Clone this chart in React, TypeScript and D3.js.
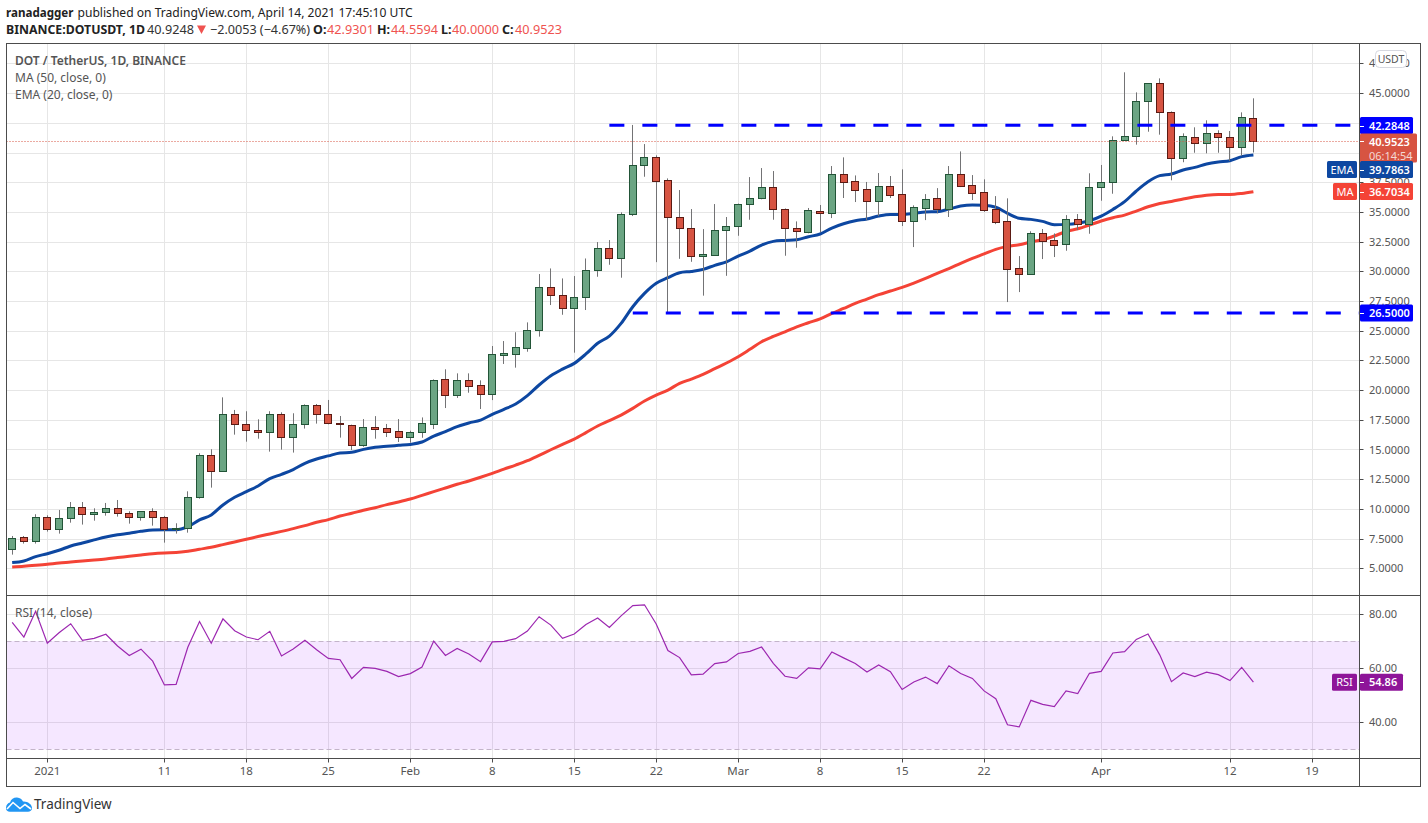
import * as d3 from 'd3';

const FONT = '"Noto Sans", sans-serif';
const WIDTH = 1428;
const HEIGHT = 823;

// daily candles, first one is 2020-12-29, last one 2021-04-14
const firstDay = new Date(Date.UTC(2020, 11, 29));

const opens = [
  6.6, 7.61, 7.27, 9.29, 8.28, 9.21, 10.13, 9.55, 9.71, 10.05,
  9.63, 9.29, 9.8, 9.29, 8.28, 8.37, 10.98, 14.51, 13.16, 17.96,
  17.12, 16.62, 16.45, 17.96, 16.03, 17.12, 18.72, 17.96, 17.21, 17.09,
  15.41, 16.86, 16.78, 16.53, 16.08, 16.44, 17.17, 20.9, 19.62, 20.82,
  20.4, 19.7, 22.98, 23.06, 23.57, 25.03, 28.65, 27.97, 26.88, 27.81,
  30.07, 32.0, 31.08, 34.79, 38.92, 39.59, 37.65, 34.54, 33.61, 31.25,
  31.39, 33.44, 33.78, 35.63, 36.14, 37.06, 35.21, 33.61, 33.34, 35.05,
  34.94, 38.16, 37.57, 36.89, 35.95, 37.15, 36.48, 34.26, 35.36, 36.14,
  35.27, 38.16, 37.23, 36.64, 35.21, 34.2, 30.24, 29.8, 33.19, 32.6,
  32.26, 34.37, 33.94, 37.07, 37.49, 41.02, 41.36, 44.3, 45.82, 43.38,
  39.51, 41.27, 40.77, 41.61, 41.27, 40.43, 42.93,
];
const closes = [
  7.53, 7.27, 9.29, 8.28, 9.21, 10.13, 9.55, 9.71, 10.05, 9.63,
  9.29, 9.8, 9.29, 8.28, 8.37, 10.98, 14.51, 13.16, 17.96, 17.12,
  16.62, 16.45, 17.96, 16.03, 17.12, 18.72, 17.96, 17.21, 17.12, 15.41,
  16.86, 16.75, 16.5, 16.08, 16.44, 17.2, 20.82, 19.62, 20.82, 20.37,
  19.7, 23.01, 23.09, 23.6, 25.03, 28.65, 27.97, 26.88, 27.81, 30.07,
  32.0, 31.08, 34.79, 38.92, 39.59, 37.57, 34.54, 33.61, 31.25, 31.42,
  33.44, 33.78, 35.63, 36.14, 37.06, 35.21, 33.61, 33.36, 35.13, 34.94,
  38.16, 37.54, 36.87, 35.95, 37.15, 36.45, 34.26, 35.39, 36.06, 35.27,
  38.16, 37.2, 36.61, 35.18, 34.17, 30.21, 29.8, 33.19, 32.57, 32.24,
  34.37, 33.94, 37.07, 37.49, 41.02, 41.36, 44.3, 45.82, 43.38, 39.51,
  41.36, 40.77, 41.61, 41.27, 40.43, 42.96, 40.95,
];
const highs = [
  7.72, 7.72, 9.55, 9.46, 9.91, 10.58, 10.58, 10.05, 10.5, 10.75,
  9.8, 9.8, 10.05, 9.41, 8.79, 11.48, 14.68, 15.02, 19.39, 18.33,
  18.22, 17.54, 18.22, 18.13, 18.05, 18.8, 18.83, 19.17, 17.82, 17.09,
  17.56, 17.81, 17.15, 17.56, 16.58, 17.7, 20.9, 21.75, 21.41, 21.41,
  20.82, 23.71, 24.13, 24.87, 25.7, 29.77, 30.24, 29.4, 29.6, 31.08,
  32.46, 32.63, 34.96, 42.32, 40.71, 39.76, 37.82, 36.84, 35.24, 33.55,
  35.66, 34.57, 35.7, 37.93, 38.69, 38.44, 35.29, 34.2, 35.33, 35.58,
  38.86, 39.59, 38.07, 37.52, 38.27, 38.02, 38.58, 35.55, 36.5, 37.0,
  38.86, 40.09, 38.1, 37.74, 36.33, 36.14, 31.28, 33.37, 33.56, 33.19,
  34.73, 34.82, 38.25, 38.95, 41.36, 46.75, 45.06, 45.82, 46.24, 43.46,
  41.61, 42.12, 42.71, 41.87, 41.81, 43.38, 44.56,
];
const lows = [
  6.15, 7.08, 7.08, 8.09, 7.92, 8.84, 8.68, 9.01, 9.43, 9.35,
  8.76, 9.01, 8.59, 7.16, 7.92, 8.0, 10.86, 11.79, 13.16, 16.25,
  15.66, 15.91, 14.82, 14.99, 14.74, 16.76, 17.18, 17.12, 16.0, 14.96,
  15.23, 15.91, 16.05, 15.63, 15.57, 15.99, 16.72, 18.49, 19.34, 19.78,
  18.41, 19.16, 22.2, 21.89, 23.23, 24.5, 27.16, 26.34, 23.15, 26.74,
  29.54, 30.55, 29.46, 34.65, 37.96, 30.77, 26.54, 31.05, 30.8, 27.95,
  31.31, 29.62, 32.99, 34.34, 36.06, 34.34, 31.31, 31.98, 33.2, 33.28,
  34.48, 36.17, 35.83, 34.29, 34.65, 36.17, 33.81, 32.04, 34.31, 34.88,
  34.57, 37.09, 36.0, 35.0, 33.97, 27.41, 28.25, 29.8, 31.03, 31.2,
  31.73, 33.47, 33.16, 35.94, 36.53, 40.97, 40.66, 41.75, 41.5, 37.66,
  39.18, 39.98, 39.93, 39.98, 39.29, 39.73, 40.0,
];
const ema20 = [
  5.48, 5.62, 5.98, 6.23, 6.52, 6.88, 7.13, 7.39, 7.64, 7.83,
  7.95, 8.11, 8.23, 8.25, 8.25, 8.51, 9.07, 9.49, 10.33, 10.98,
  11.45, 11.93, 12.55, 12.91, 13.31, 13.84, 14.2, 14.46, 14.71, 14.76,
  15.01, 15.18, 15.27, 15.35, 15.43, 15.63, 16.13, 16.5, 16.92, 17.23,
  17.48, 17.96, 18.38, 18.83, 19.53, 20.43, 21.21, 21.77, 22.25, 23.04,
  23.94, 24.55, 25.62, 27.02, 28.14, 28.99, 29.46, 29.88, 29.99, 30.16,
  30.5, 30.8, 31.28, 31.7, 32.21, 32.52, 32.6, 32.66, 32.91, 33.14,
  33.64, 34.0, 34.26, 34.4, 34.65, 34.79, 34.79, 34.88, 34.99, 35.02,
  35.24, 35.49, 35.58, 35.55, 35.39, 34.88, 34.46, 34.37, 34.2, 33.92,
  33.95, 34.05, 34.26, 34.65, 35.21, 35.86, 36.76, 37.54, 38.05, 38.19,
  38.53, 38.75, 39.03, 39.2, 39.31, 39.65, 39.79,
];
const ma50 = [
  5.11, 5.17, 5.25, 5.34, 5.45, 5.53, 5.62, 5.7, 5.79, 5.9,
  6.01, 6.12, 6.23, 6.29, 6.32, 6.43, 6.6, 6.77, 6.99, 7.22,
  7.44, 7.67, 7.89, 8.11, 8.34, 8.59, 8.87, 9.1, 9.4, 9.63,
  9.88, 10.1, 10.36, 10.58, 10.83, 11.14, 11.45, 11.76, 12.07, 12.35,
  12.66, 12.99, 13.35, 13.69, 14.06, 14.51, 14.98, 15.43, 15.88, 16.42,
  16.98, 17.43, 17.9, 18.46, 19.08, 19.58, 20.0, 20.57, 20.93, 21.32,
  21.8, 22.28, 22.81, 23.43, 24.07, 24.52, 24.91, 25.33, 25.67, 26.0,
  26.45, 26.87, 27.3, 27.66, 28.03, 28.34, 28.65, 29.01, 29.4, 29.83,
  30.22, 30.67, 31.09, 31.46, 31.85, 32.1, 32.24, 32.47, 32.66, 32.97,
  33.35, 33.58, 33.89, 34.23, 34.51, 34.73, 35.07, 35.43, 35.71, 35.88,
  36.08, 36.27, 36.41, 36.47, 36.47, 36.55, 36.7,
];
const rsi14 = [
  76.9, 71.5, 81.0, 69.2, 73.1, 76.4, 70.3, 71.0, 72.5, 68.2,
  64.7, 67.0, 62.6, 53.8, 54.0, 67.7, 77.2, 69.2, 78.2, 73.8,
  71.5, 70.5, 73.6, 64.5, 67.1, 70.3, 66.8, 63.6, 63.1, 56.2,
  60.3, 59.9, 58.8, 56.9, 58.0, 60.4, 70.0, 64.7, 67.3, 65.2,
  62.4, 69.7, 69.9, 70.9, 73.7, 79.0, 75.9, 71.0, 72.6, 76.1,
  78.5, 75.0, 79.3, 83.1, 83.4, 76.3, 66.5, 63.9, 57.5, 57.8,
  61.7, 62.3, 65.4, 66.2, 67.8, 61.8, 57.0, 56.2, 60.1, 59.7,
  66.0, 63.8, 61.7, 58.6, 61.2, 58.7, 52.1, 54.9, 56.7, 54.3,
  60.9, 58.0, 56.2, 51.6, 48.7, 39.1, 38.3, 48.1, 46.6, 45.8,
  51.6, 50.6, 58.1, 58.8, 65.6, 66.1, 70.6, 72.6, 64.9, 55.0,
  58.2, 56.9, 58.5, 57.6, 55.4, 60.3, 54.86,
];

// horizontal levels drawn by the author, with the candle they start from
const levels = [42.2848, 26.5];
const levelStarts = [51, 53];

const priceTicks = d3.range(5, 50, 2.5);
// these two sit fully under the tags on the scale
const coveredTicks = [40, 42.5];
const rsiTicks = [80, 60, 40];
const timeTicks: [Date, string][] = [
  [new Date(Date.UTC(2021, 0, 1)), '2021'],
  [new Date(Date.UTC(2021, 0, 11)), '11'],
  [new Date(Date.UTC(2021, 0, 18)), '18'],
  [new Date(Date.UTC(2021, 0, 25)), '25'],
  [new Date(Date.UTC(2021, 1, 1)), 'Feb'],
  [new Date(Date.UTC(2021, 1, 8)), '8'],
  [new Date(Date.UTC(2021, 1, 15)), '15'],
  [new Date(Date.UTC(2021, 1, 22)), '22'],
  [new Date(Date.UTC(2021, 2, 1)), 'Mar'],
  [new Date(Date.UTC(2021, 2, 8)), '8'],
  [new Date(Date.UTC(2021, 2, 15)), '15'],
  [new Date(Date.UTC(2021, 2, 22)), '22'],
  [new Date(Date.UTC(2021, 3, 1)), 'Apr'],
  [new Date(Date.UTC(2021, 3, 12)), '12'],
  [new Date(Date.UTC(2021, 3, 19)), '19'],
];

const UP_FILL = '#6ba583';
const UP_EDGE = '#225437';
const DOWN_FILL = '#d75442';
const DOWN_EDGE = '#5b1a13';
const WICK = '#737375';
const GRID = '#e6e6e6';
const FRAME = '#4c4c4c';
const AXIS_TEXT = '#555555';
const EMA_BLUE = '#0d47a1';
const MA_RED = '#f44336';
const RSI_PURPLE = '#9c27b0';
const RSI_TAG = '#8e1599';
const QUOTE_RED = '#ef5350';

// pane bounds
const left = 6.5;
const right = 1359.5;
const outerRight = 1420.5;
const top = 43.5;
const paneSplit = 595.5;
const timeTop = 758.5;
const bottom = 786.5;

const dayOf = (i: number) => d3.utcDay.offset(firstDay, i);
const x = d3
  .scaleUtc()
  .domain([new Date(Date.UTC(2021, 0, 1)), new Date(Date.UTC(2021, 3, 14))])
  .range([47.3, 1253.4]);
const y = d3.scaleLinear().domain([5, 45]).range([568.3, 93.1]);
const yRsi = d3.scaleLinear().domain([40, 80]).range([722.3, 614]);

const priceLine = d3
  .line<number>()
  .x((_, i) => x(dayOf(i)))
  .y((d) => y(d))
  .curve(d3.curveMonotoneX);
const rsiLine = d3
  .line<number>()
  .x((_, i) => x(dayOf(i)))
  .y((d) => yRsi(d));

const crisp = (v: number) => Math.round(v) + 0.5;

const TextAt = ({ px, py, size = 12, fill = AXIS_TEXT, weight = 400, anchor = 'start', children }: any) => (
  <text x={px} y={py} fontSize={size} fill={fill} fontWeight={weight} textAnchor={anchor} fontFamily={FONT}>
    {children}
  </text>
);

// coloured tag on the price scale
const ValueTag = ({ value, label, fill, width = 53, labelWidth = 30, yPos }: any) => (
  <g>
    {label && (
      <g>
        <rect x={1358 - labelWidth} y={yPos - 8.5} width={labelWidth - 1} height={17} rx={1.5} fill={fill} />
        <TextAt px={1358 - 1 - (labelWidth - 1) / 2} py={yPos + 4} size={11} fill="#fff" anchor="middle">
          {label}
        </TextAt>
      </g>
    )}
    <rect x={1360} y={yPos - 8.5} width={width} height={17} rx={1.5} fill={fill} />
    <line x1={1360} x2={1364} y1={crisp(yPos)} y2={crisp(yPos)} stroke="#fff" />
    <TextAt px={1369} py={yPos + 4} size={11} fill="#fff" weight={600}>
      {value}
    </TextAt>
  </g>
);

export default function App() {
  const lastClose = closes[closes.length - 1];
  const lastRsi = rsi14[rsi14.length - 1];
  const lastEma = 39.7863;
  const lastMa = 36.7034;

  return (
    <svg
      width={WIDTH}
      height={HEIGHT}
      style={{ position: 'absolute', left: 0, top: 0, display: 'block', background: '#fff' }}
    >
      {/* header */}
      <TextAt px={6} py={17} size={11.6} fill="#222" weight={700}>ranadagger</TextAt>
      <TextAt px={77.5} py={17} size={12.1} fill="#222">published on TradingView.com, April 14, 2021 17:45:10 UTC</TextAt>
      <TextAt px={6} py={34} size={12.3} fill="#222" weight={700}>BINANCE:DOTUSDT, 1D</TextAt>
      <TextAt px={147} py={34} size={12.7} fill="#333">40.9248</TextAt>
      <path d="M197,25.5 L206,25.5 L201.5,34 Z" fill={QUOTE_RED} />
      <TextAt px={210} py={34} size={12.6} fill="#333">−2.0053 (−4.67%)</TextAt>
      <TextAt px={313} py={34} size={12.5} fill="#222" weight={700}>O:</TextAt>
      <TextAt px={327} py={34} size={12.7} fill={QUOTE_RED}>42.9301</TextAt>
      <TextAt px={377} py={34} size={12.5} fill="#222" weight={700}>H:</TextAt>
      <TextAt px={391} py={34} size={12.7} fill={QUOTE_RED}>44.5594</TextAt>
      <TextAt px={441} py={34} size={12.5} fill="#222" weight={700}>L:</TextAt>
      <TextAt px={452} py={34} size={12.7} fill={QUOTE_RED}>40.0000</TextAt>
      <TextAt px={502} py={34} size={12.5} fill="#222" weight={700}>C:</TextAt>
      <TextAt px={515} py={34} size={12.7} fill={QUOTE_RED}>40.9523</TextAt>

      {/* grid */}
      {timeTicks.map(([d], i) => (
        <line key={i} x1={crisp(x(d))} x2={crisp(x(d))} y1={top} y2={timeTop} stroke={GRID} />
      ))}
      {priceTicks.map((t) => (
        <line key={t} x1={left} x2={right} y1={crisp(y(t))} y2={crisp(y(t))} stroke={GRID} />
      ))}
      {rsiTicks.map((t) => (
        <line key={t} x1={left} x2={right} y1={crisp(yRsi(t))} y2={crisp(yRsi(t))} stroke={GRID} />
      ))}

      {/* rsi pane */}
      <rect
        x={left}
        width={right - left}
        y={yRsi(70)}
        height={yRsi(30) - yRsi(70)}
        fill="#9915ff"
        fillOpacity={0.1}
      />
      {[70, 30].map((t) => (
        <line
          key={t}
          x1={left}
          x2={right}
          y1={crisp(yRsi(t))}
          y2={crisp(yRsi(t))}
          stroke="#c3b4c9"
          strokeDasharray="5 3"
        />
      ))}
      <path d={rsiLine(rsi14) as string} fill="none" stroke={RSI_PURPLE} strokeWidth={1.2} />

      {/* moving averages sit behind the candles */}
      <path d={priceLine(ma50) as string} fill="none" stroke={MA_RED} strokeWidth={3} />
      <path d={priceLine(ema20) as string} fill="none" stroke={EMA_BLUE} strokeWidth={3} />

      {/* candles */}
      {opens.map((o, i) => {
        const c = closes[i];
        const up = c >= o;
        const xc = x(dayOf(i));
        const bx = Math.round(xc - 4) + 0.5;
        const wx = Math.floor(xc) + 0.5;
        const bTop = crisp(y(Math.max(o, c)));
        const bBot = crisp(y(Math.min(o, c)));
        return (
          <g key={i}>
            <line x1={wx} x2={wx} y1={y(highs[i])} y2={y(lows[i])} stroke={WICK} />
            <rect
              x={bx}
              y={bTop}
              width={7}
              height={Math.max(bBot - bTop, 1)}
              fill={up ? UP_FILL : DOWN_FILL}
              stroke={up ? UP_EDGE : DOWN_EDGE}
            />
          </g>
        );
      })}

      {/* last price and the two levels */}
      <line
        x1={left}
        x2={right}
        y1={crisp(y(lastClose))}
        y2={crisp(y(lastClose))}
        stroke={DOWN_FILL}
        strokeDasharray="1 2"
      />
      {levels.map((lv, i) => (
        <line
          key={lv}
          x1={x(dayOf(levelStarts[i]))}
          x2={right}
          y1={y(lv)}
          y2={y(lv)}
          stroke="#0000ff"
          strokeWidth={3}
          strokeDasharray="15 18"
        />
      ))}

      {/* frame */}
      <rect x={left} y={top} width={outerRight - left} height={bottom - top} fill="none" stroke={FRAME} />
      <line x1={left} x2={outerRight} y1={paneSplit} y2={paneSplit} stroke={FRAME} />
      <line x1={left} x2={outerRight} y1={timeTop} y2={timeTop} stroke={FRAME} />
      <line x1={right} x2={right} y1={top} y2={bottom} stroke={FRAME} />

      {/* price axis */}
      {priceTicks
        .filter((t) => !coveredTicks.includes(t))
        .map((t) => (
          <g key={t}>
            <line x1={right} x2={right + 4} y1={crisp(y(t))} y2={crisp(y(t))} stroke={FRAME} />
            <TextAt px={1369} py={y(t) + 4} size={11}>{d3.format('.4f')(t)}</TextAt>
          </g>
        ))}
      {rsiTicks.map((t) => (
        <g key={t}>
          <line x1={right} x2={right + 4} y1={crisp(yRsi(t))} y2={crisp(yRsi(t))} stroke={FRAME} />
          <TextAt px={1369} py={yRsi(t) + 4} size={11}>{d3.format('.2f')(t)}</TextAt>
        </g>
      ))}

      {/* time axis */}
      {timeTicks.map(([d, label], i) => (
        <g key={i}>
          <line x1={crisp(x(d))} x2={crisp(x(d))} y1={timeTop} y2={timeTop + 4} stroke={FRAME} />
          <TextAt px={x(d)} py={775} size={11.5} anchor="middle">{label}</TextAt>
        </g>
      ))}

      {/* legends */}
      <TextAt px={15} py={65} size={12} fill="#555" weight={600}>DOT / TetherUS, 1D, BINANCE</TextAt>
      <TextAt px={15} py={82} size={12} fill="#555">MA (50, close, 0)</TextAt>
      <TextAt px={15} py={99} size={12} fill="#555">EMA (20, close, 0)</TextAt>
      <TextAt px={15} py={617} size={12} fill="#555">RSI (14, close)</TextAt>

      {/* scale tags */}
      <ValueTag value="42.2848" fill="#0000ff" yPos={125.5} />
      <ValueTag value="26.5000" fill="#0000ff" yPos={312.9} />
      <rect x={1360} y={133.5} width={57} height={29} rx={1.5} fill={DOWN_FILL} />
      <line x1={1360} x2={1364} y1={crisp(y(lastClose))} y2={crisp(y(lastClose))} stroke="#fff" />
      <TextAt px={1369} py={146} size={11} fill="#fff" weight={600}>{d3.format('.4f')(40.9523)}</TextAt>
      <TextAt px={1369} py={159.5} size={11} fill="#f4d9d5">06:14:54</TextAt>
      <ValueTag value={d3.format('.4f')(lastEma)} label="EMA" labelWidth={31} fill={EMA_BLUE} yPos={169.5} />
      <ValueTag value={d3.format('.4f')(lastMa)} label="MA" labelWidth={25} fill={MA_RED} yPos={191.5} />
      <ValueTag value={d3.format('.2f')(lastRsi)} label="RSI" labelWidth={26} width={43} fill={RSI_TAG} yPos={682.3} />

      {/* currency badge */}
      <rect x={1375.5} y={50.5} width={31} height={17} rx={4} fill="#fff" stroke="#d6d8e0" />
      <TextAt px={1391} py={63} size={10.5} fill="#555" anchor="middle">USDT</TextAt>

      {/* logo */}
      <path
        d="M6,808 C6,804.5 8,803 10,802.5 C11,799 14,797.3 17,797.5 C20,797.7 22,799.5 23,801.5 C27,801 32,804 32,808 C32,810.5 30,811.8 28,811.8 L10,811.8 C7.5,811.8 6,810.5 6,808 Z"
        fill="#2196f3"
      />
      <path d="M7,809 L13,802.5 L20,808.5 L25,804.5 L31,809" fill="none" stroke="#fff" strokeWidth={1.6} />
      <TextAt px={34} py={809} size={13.5} fill="#333">TradingView</TextAt>
    </svg>
  );
}
